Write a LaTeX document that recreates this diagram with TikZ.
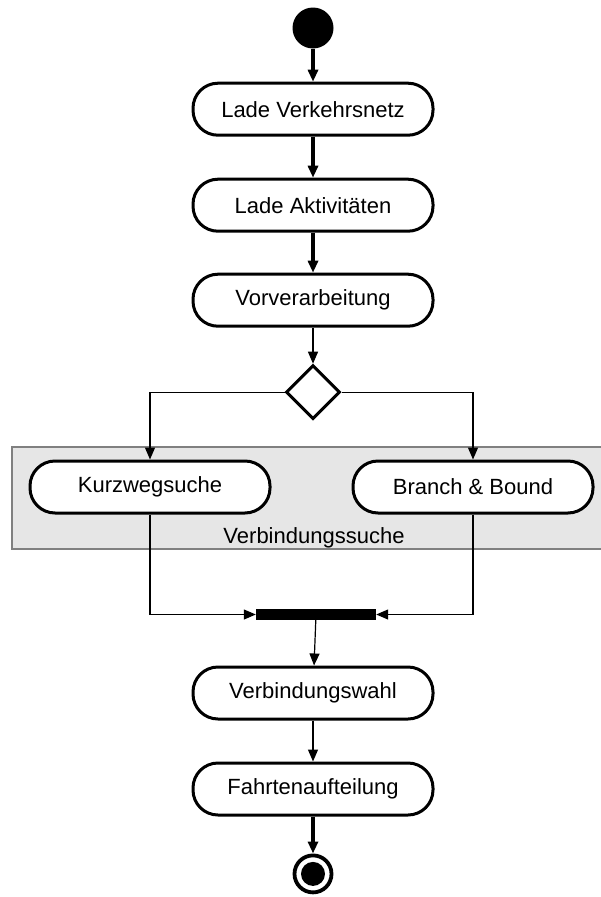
\documentclass[tikz,border=0pt]{standalone}
\usepackage{fontspec}
\setmainfont{Liberation Sans}
\usetikzlibrary{positioning,arrows.meta,shapes.geometric}

\definecolor{swimgray}{HTML}{E6E6E6}
\definecolor{swimline}{HTML}{808080}

\begin{document}
\begin{tikzpicture}[x=1pt,y=-1pt]
    \useasboundingbox (0,0) rectangle (601,897);
    \begin{scope}[font=\fontsize{22}{26}\selectfont,
        action/.style={rectangle, rounded corners=25pt, draw, line width=3pt, fill=white, minimum width=240pt, minimum height=52pt, inner sep=0pt},
        choice/.style={diamond, draw, line width=3pt, fill=white, minimum size=54pt, inner sep=0pt},
        startnode/.style={circle, fill, minimum size=41pt, inner sep=0pt},
        endnode/.style={circle, draw, line width=3.8pt, minimum size=37pt, inner sep=0pt,
            path picture={\fill (path picture bounding box.center) circle (12pt);}},
        syncbar/.style={rectangle, fill, minimum width=120pt, minimum height=11pt, inner sep=0pt},
        flow/.style={-{Triangle[length=12pt,width=10pt]}, line width=3.2pt},
        thinflow/.style={-{Triangle[length=12pt,width=10pt]}, line width=1.2pt},
        region/.style={draw=swimline, fill=swimgray, line width=1.2pt}]
    % partition for the search step
    \draw[region] (12,447) rectangle (604,549);
    \node (suche) at (314,538) {Verbindungssuche};
    % main chain
    \node[startnode] (start) at (313,28) {};
    \node[action, below=33pt of start] (netz) {Lade Verkehrsnetz};
    \node[action, below=41pt of netz] (aktiv) {Lade Aktivitäten};
    \node[action, below=40pt of aktiv] (vor) {Vorverarbeitung};
    \node[choice, below=36pt of vor] (split) {};
    % two alternatives
    \node[action] (kurz) at (150,487) {Kurzwegsuche};
    \node[action] (bound) at (473,487) {Branch \& Bound};
    \node[syncbar] (bar) at (316,614.5) {};
    \node[action] (wahl) at (313,693) {Verbindungswahl};
    \node[action, below=41pt of wahl] (fahrt) {Fahrtenaufteilung};
    \node[endnode, below=37pt of fahrt] (ende) {};
    % connectors
    \draw[flow] (start) -- (netz);
    \draw[flow] (netz) -- (aktiv);
    \draw[flow] (aktiv) -- (vor);
    \draw[thinflow] (vor) -- (split);
    \draw[thinflow] (split.west) -| (kurz);
    \draw[thinflow] (split.east) -| (bound);
    \draw[thinflow] (kurz.south) |- (bar.west);
    \draw[thinflow] (bound.south) |- (bar.east);
    \draw[thinflow] (bar) -- (wahl);
    \draw[thinflow] (wahl) -- (fahrt);
    \draw[flow] (fahrt) -- (ende);
    \end{scope}
\end{tikzpicture}
\end{document}
